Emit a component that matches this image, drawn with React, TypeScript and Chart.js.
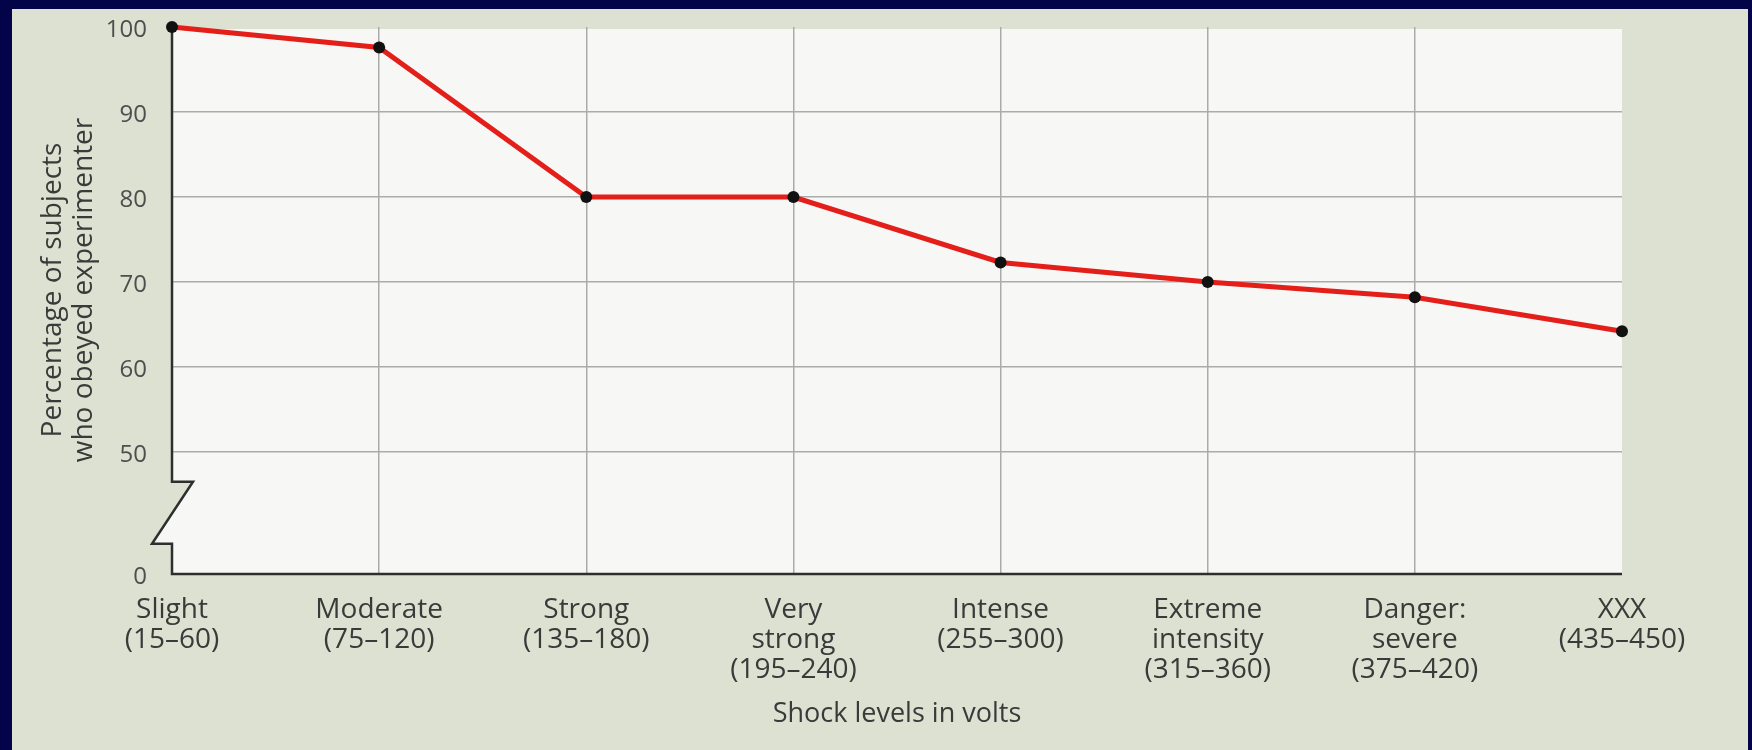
import React, { useEffect, useRef } from 'react';
import { Chart, registerables } from 'chart.js';

Chart.register(...registerables);

// ---- Data ----
const shockLevelNames: string[][] = [
  ['Slight'],
  ['Moderate'],
  ['Strong'],
  ['Very', 'strong'],
  ['Intense'],
  ['Extreme', 'intensity'],
  ['Danger:', 'severe'],
  ['XXX'],
];
const voltRanges = ['(15–60)', '(75–120)', '(135–180)', '(195–240)', '(255–300)', '(315–360)', '(375–420)', '(435–450)'];
const obeyedPercent = [100, 97.6, 80, 80, 72.3, 70, 68.2, 64.2];
const yTickValues = [50, 60, 70, 80, 90, 100];
const yBottomLabel = '0';
const yAxisMin = 35.65; // compressed "0" position below the axis break
const yAxisMax = 100;
const yBreakUpper = 46.5;
const yBreakLower = 39.2;
const xTitle = 'Shock levels in volts';
const yTitleLines = ['Percentage of subjects', 'who obeyed experimenter'];

// ---- Styles ----
const FONT = '"Open Sans", "Noto Sans", sans-serif';
const NAVY = '#03034a';
const PANEL = '#dde1d1';
const PLOT = '#f7f7f5';
const GRID = '#ababab';
const AXIS = '#2e2e2e';
const RED = '#e41f1a';
const TEXT = '#3a3a3a';

const categoryLabels = shockLevelNames.map((lines, i) => [...lines, voltRanges[i]]);

const decorPlugin = {
  id: 'decor',
  beforeDraw(chart: any) {
    const { ctx, chartArea: ca, width, height } = chart;
    const y = chart.scales.y;
    ctx.save();
    ctx.fillStyle = NAVY;
    ctx.fillRect(0, 0, width, height);
    ctx.fillStyle = PANEL;
    ctx.fillRect(12, 9, width - 16, height - 9);
    const yb1 = y.getPixelForValue(yBreakUpper);
    const yb2 = y.getPixelForValue(yBreakLower);
    ctx.beginPath();
    ctx.moveTo(ca.left, ca.top + 2);
    ctx.lineTo(ca.right, ca.top + 2);
    ctx.lineTo(ca.right, ca.bottom);
    ctx.lineTo(ca.left, ca.bottom);
    ctx.lineTo(ca.left, yb2);
    ctx.lineTo(ca.left - 20, yb2);
    ctx.lineTo(ca.left + 21, yb1);
    ctx.lineTo(ca.left, yb1);
    ctx.closePath();
    ctx.fillStyle = PLOT;
    ctx.fill();
    ctx.restore();
  },
  beforeDatasetsDraw(chart: any) {
    const { ctx, chartArea: ca } = chart;
    const y = chart.scales.y;
    const yb1 = y.getPixelForValue(yBreakUpper);
    const yb2 = y.getPixelForValue(yBreakLower);
    ctx.save();
    ctx.strokeStyle = AXIS;
    ctx.lineWidth = 2.5;
    ctx.lineJoin = 'miter';
    ctx.beginPath();
    ctx.moveTo(ca.left, ca.top);
    ctx.lineTo(ca.left, yb1);
    ctx.lineTo(ca.left + 21, yb1);
    ctx.lineTo(ca.left - 20, yb2);
    ctx.lineTo(ca.left, yb2);
    ctx.lineTo(ca.left, ca.bottom);
    ctx.lineTo(ca.right, ca.bottom);
    ctx.stroke();
    ctx.restore();
  },
  afterDraw(chart: any) {
    const { ctx, chartArea: ca } = chart;
    ctx.save();
    ctx.fillStyle = TEXT;
    ctx.font = `27px ${FONT}`;
    ctx.textAlign = 'center';
    ctx.textBaseline = 'alphabetic';
    ctx.fillText(xTitle, (ca.left + ca.right) / 2, 722);
    ctx.font = `28px ${FONT}`;
    ctx.translate(61, 290);
    ctx.rotate(-Math.PI / 2);
    yTitleLines.forEach((line, i) => ctx.fillText(line, 0, i * 31));
    ctx.restore();
  },
};

export default function App() {
  const ref = useRef<HTMLCanvasElement>(null);
  useEffect(() => {
    const n = categoryLabels.length;
    const chart = new Chart(ref.current as HTMLCanvasElement, {
      type: 'line',
      data: {
        labels: categoryLabels,
        datasets: [
          {
            data: obeyedPercent,
            borderColor: RED,
            borderWidth: 5,
            pointRadius: 6,
            pointBackgroundColor: '#111',
            pointBorderColor: '#111',
            pointBorderWidth: 0,
            tension: 0,
            clip: false as any,
          },
        ],
      },
      options: {
        animation: false,
        responsive: false,
        layout: { padding: { top: 27, right: 130, bottom: 0, left: 0 } },
        plugins: {
          legend: { display: false },
          tooltip: { enabled: false },
          title: { display: false },
        },
        scales: {
          x: {
            type: 'category',
            offset: false,
            border: { display: false },
            grid: {
              color: (c: any) => (c.index > 0 && c.index < n - 1 ? GRID : 'transparent'),
              lineWidth: 1.5,
              drawTicks: false,
            },
            ticks: {
              color: TEXT,
              font: { family: FONT, size: 28, lineHeight: '30px' },
              padding: 21,
              maxRotation: 0,
              minRotation: 0,
              autoSkip: false,
            },
            afterFit: (s: any) => {
              s.height = 176;
            },
          },
          y: {
            type: 'linear',
            min: yAxisMin,
            max: yAxisMax,
            border: { display: false },
            grid: {
              color: (c: any) =>
                c.tick && c.tick.value >= 50 && c.tick.value < yAxisMax ? GRID : 'transparent',
              lineWidth: 1.5,
              drawTicks: false,
            },
            afterBuildTicks: (s: any) => {
              s.ticks = [yAxisMin, ...yTickValues].map((v) => ({ value: v }));
            },
            ticks: {
              color: '#4e4e4e',
              font: { family: FONT, size: 24 },
              padding: 25,
              labelOffset: 3,
              callback: (v: any) => (v === yAxisMin ? yBottomLabel : String(v)),
            },
            afterFit: (s: any) => {
              s.width = 172;
              s.paddingTop = 0;
              s.paddingBottom = 0;
            },
          },
        },
      },
      plugins: [decorPlugin],
    });
    return () => chart.destroy();
  }, []);

  return (
    <div style={{ position: 'absolute', left: 0, top: 0, width: 1752, height: 750 }}>
      <canvas ref={ref} width={1752} height={750} style={{ display: 'block', width: 1752, height: 750 }} />
    </div>
  );
}
